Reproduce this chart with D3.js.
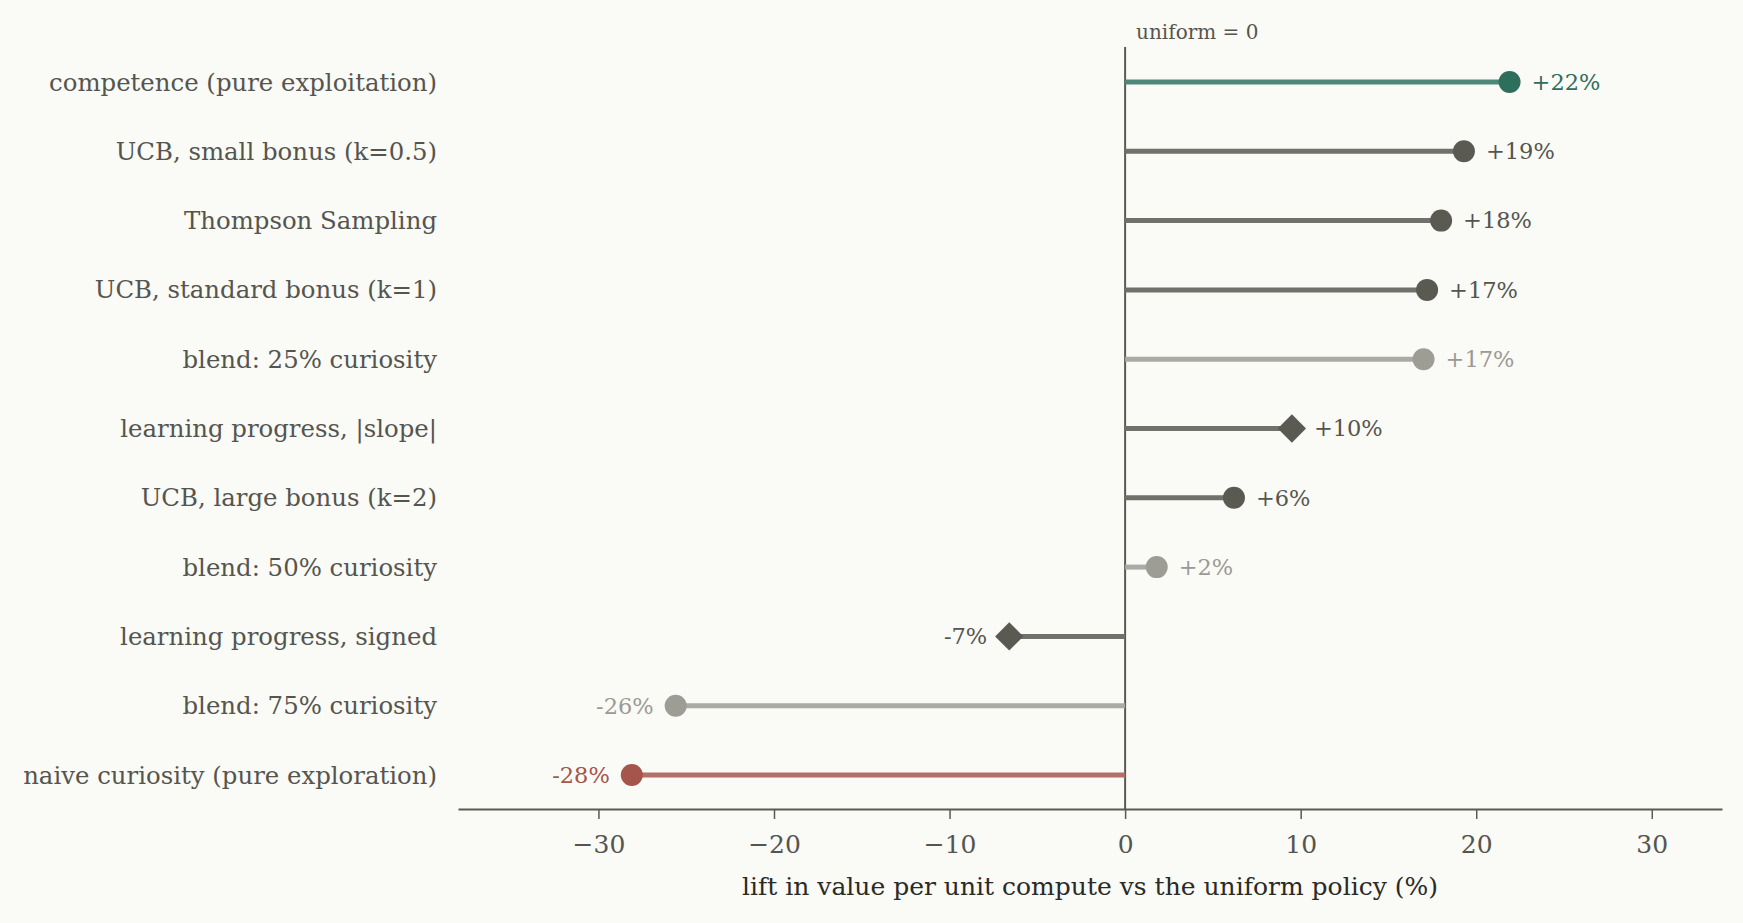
<!DOCTYPE html>
<html>
<head>
<meta charset="utf-8">
<script src="https://cdn.jsdelivr.net/npm/d3@7"></script>
<style>
    body { margin: 0; background: #fafaf6; }
    svg text { font-family: Georgia, "DejaVu Serif", serif; }
</style>
</head>
<body>
<div id="chart"></div>
<script>
var categories = [
    "competence (pure exploitation)",
    "UCB, small bonus (k=0.5)",
    "Thompson Sampling",
    "UCB, standard bonus (k=1)",
    "blend: 25% curiosity",
    "learning progress, |slope|",
    "UCB, large bonus (k=2)",
    "blend: 50% curiosity",
    "learning progress, signed",
    "blend: 75% curiosity",
    "naive curiosity (pure exploration)"
];
var lift = [21.9, 19.3, 18.0, 17.2, 17.0, 9.5, 6.2, 1.8, -6.6, -25.6, -28.1];
var liftLabels = ["+22%", "+19%", "+18%", "+17%", "+17%", "+10%", "+6%", "+2%", "-7%", "-26%", "-28%"];
var groups = ["best", "ucb", "ucb", "ucb", "blend", "ucb", "ucb", "blend", "ucb", "blend", "worst"];
var shapes = ["dot", "dot", "dot", "dot", "dot", "diamond", "dot", "dot", "diamond", "dot", "dot"];
var xTicks = [-30, -20, -10, 0, 10, 20, 30];

var colorDict = {}
colorDict["best"] = { dot: "#2e6e5c", stem: "#4f8878", text: "#2e6e5c" };
colorDict["ucb"] = { dot: "#5a5a53", stem: "#71716b", text: "#55554f" };
colorDict["blend"] = { dot: "#9d9d96", stem: "#abaaa4", text: "#9a9a94" };
colorDict["worst"] = { dot: "#a5554a", stem: "#b27068", text: "#a5554a" };

var w = 1743, h = 923;

var svg = d3.select("#chart")
    .append("svg")
    .attr("width", w)
    .attr("height", h);

var xScale = d3.scaleLinear()
    .domain([-38, 34])
    .range([458, 1722]);

var yScale = d3.scalePoint()
    .domain(categories)
    .range([82, 775]);

var axisY = 809;

// x axis
var xAxis = d3.axisBottom()
    .scale(xScale)
    .tickValues(xTicks)
    .tickSize(10)
    .tickSizeOuter(0)
    .tickPadding(16)
    .tickFormat(function (d) { return d < 0 ? "\u2212" + Math.abs(d) : d; });

var gx = svg.append("g")
    .attr("transform", "translate(0," + axisY + ")")
    .call(xAxis);
gx.select(".domain").attr("stroke", "#5a5a55").attr("stroke-width", 2);
gx.selectAll(".tick line").attr("stroke", "#5a5a55").attr("stroke-width", 1.5);
gx.selectAll(".tick text")
    .attr("fill", "#55554f")
    .style("font-size", "25px")
    .style("font-family", "Georgia, 'DejaVu Serif', serif");

svg.append("text")
    .attr("x", (xScale.range()[0] + xScale.range()[1]) / 2)
    .attr("y", 895)
    .attr("text-anchor", "middle")
    .attr("fill", "#2a2a26")
    .style("font-size", "25px")
    .text("lift in value per unit compute vs the uniform policy (%)");

// zero line
svg.append("line")
    .attr("x1", xScale(0)).attr("x2", xScale(0))
    .attr("y1", 47).attr("y2", axisY)
    .attr("stroke", "#5a5a55")
    .attr("stroke-width", 2);

svg.append("text")
    .attr("x", xScale(0) + 11)
    .attr("y", 39)
    .attr("fill", "#55554f")
    .style("font-size", "20px")
    .text("uniform = 0");

// category labels
svg.selectAll("text.cat")
    .data(categories)
    .enter().append("text")
    .attr("class", "cat")
    .attr("x", 437)
    .attr("y", function (d) { return yScale(d); })
    .attr("dy", "0.35em")
    .attr("text-anchor", "end")
    .attr("fill", "#55554f")
    .style("font-size", "24.4px")
    .text(function (d) { return d; });

// stems
svg.selectAll("line.stem")
    .data(categories)
    .enter().append("line")
    .attr("class", "stem")
    .attr("x1", xScale(0))
    .attr("x2", function (d, i) { return xScale(lift[i]); })
    .attr("y1", function (d) { return yScale(d); })
    .attr("y2", function (d) { return yScale(d); })
    .attr("stroke", function (d, i) { return colorDict[groups[i]].stem; })
    .attr("stroke-width", 5);

// markers
svg.selectAll("path.marker")
    .data(categories)
    .enter().append("path")
    .attr("class", "marker")
    .attr("transform", function (d, i) {
        return "translate(" + xScale(lift[i]) + "," + yScale(d) + ")" + (shapes[i] == "diamond" ? " rotate(45)" : "");
    })
    .attr("d", function (d, i) {
        if (shapes[i] == "diamond") {
            return d3.symbol().type(d3.symbolSquare).size(400)();
        }
        return d3.symbol().type(d3.symbolCircle).size(Math.PI * 11 * 11)();
    })
    .attr("fill", function (d, i) { return colorDict[groups[i]].dot; });

// value labels
svg.selectAll("text.val")
    .data(categories)
    .enter().append("text")
    .attr("class", "val")
    .attr("x", function (d, i) { return xScale(lift[i]) + (lift[i] >= 0 ? 22 : -22); })
    .attr("y", function (d) { return yScale(d); })
    .attr("dy", "0.35em")
    .attr("text-anchor", function (d, i) { return lift[i] >= 0 ? "start" : "end"; })
    .attr("fill", function (d, i) { return colorDict[groups[i]].text; })
    .style("font-size", "22.5px")
    .text(function (d, i) { return liftLabels[i]; });
</script>
</body>
</html>
